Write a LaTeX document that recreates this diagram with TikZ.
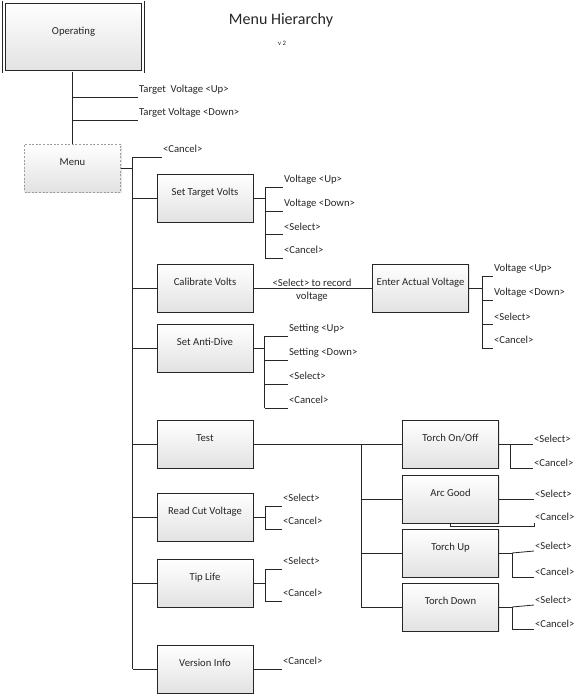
\documentclass[tikz,border=0pt]{standalone}
\usepackage{fontspec}
\setmainfont{Carlito}
\usepackage{tikz}
\usetikzlibrary{shadows}
\definecolor{ink}{HTML}{262626}
\definecolor{boxgray}{HTML}{E2E2E2}
\definecolor{dashgray}{HTML}{9C9C9C}
\tikzset{
  menu diagram/.style={
    x=0.75pt,
    y=-0.75pt,
    font=\fontsize{8}{9.6}\selectfont,
    color=ink
  },
  menubox/.style={
    draw=ink,
    line width=0.6pt,
    top color=white,
    bottom color=boxgray,
    minimum width=72pt,
    minimum height=36pt,
    inner sep=0pt,
    text height=6pt,
    text depth=10.4pt,
    drop shadow={shadow xshift=1pt, shadow yshift=-1pt, opacity=0.2}
  },
  rootbox/.style={
    menubox,
    double=white,
    double distance=1.4pt,
    minimum width=104pt,
    minimum height=52pt
  },
  hubbox/.style={
    menubox,
    draw=dashgray,
    dash pattern=on 1.5pt off 1.2pt
  },
  leaf/.style={
    anchor=south west,
    inner xsep=0.6pt,
    inner ysep=0pt,
    text depth=3pt
  },
  tleaf/.style={
    leaf,
    text depth=1pt
  },
  wire/.style={
    draw=ink,
    line width=0.6pt
  }
}

\begin{document}
\begin{tikzpicture}[menu diagram]
\useasboundingbox (0,0) rectangle (577,696);

% title
\node[font=\fontsize{12}{14}\selectfont] (title) at (281,20) {Menu Hierarchy};
\node[font=\fontsize{5}{6}\selectfont] (version) at (282,43) {v 2};

% top level
\node[rootbox] (operating) at (73.5,37) {Operating};
\node[hubbox] (menu) at (72.5,168) {Menu};
\node[leaf] (tvup) at (138,97) {Target\ \ Voltage <Up>};
\node[leaf] (tvdown) at (138,120) {Target Voltage <Down>};
\draw[wire] (menu.north |- operating.south) -- (menu.north);
\draw[wire] (menu.north |- tvup.south west) -- (tvup.south west);
\draw[wire] (menu.north |- tvdown.south west) -- (tvdown.south west);

% menu entries
\coordinate (trunk) at (132.5,157);
\node[leaf] (mcancel) at (162,157) {<Cancel>};
\node[menubox] (settarget) at (205,198) {Set Target Volts};
\node[menubox] (calibrate) at (205,288) {Calibrate Volts};
\node[menubox] (antidive) at (205,348) {Set Anti-Dive};
\node[menubox] (test) at (205,444) {Test};
\node[menubox] (readcut) at (205,517) {Read Cut Voltage};
\node[menubox] (tiplife) at (205,583) {Tip Life};
\node[menubox] (versioninfo) at (205,669) {Version Info};
\draw[wire] (menu.east) -- (menu.east -| trunk);
\draw[wire] (trunk) -- (trunk |- versioninfo);
\draw[wire] (trunk) -- (mcancel.south west);
\draw[wire] (trunk |- settarget) -- (settarget.west);
\draw[wire] (trunk |- calibrate) -- (calibrate.west);
\draw[wire] (trunk |- antidive) -- (antidive.west);
\draw[wire] (trunk |- test) -- (test.west);
\draw[wire] (trunk |- readcut) -- (readcut.west);
\draw[wire] (trunk |- tiplife) -- (tiplife.west);
\draw[wire] (trunk |- versioninfo) -- (versioninfo.west);

% set target volts
\coordinate (stvbus) at (265,187);
\node[leaf] (stvup) at (283,187) {Voltage <Up>};
\node[leaf] (stvdown) at (283,211) {Voltage <Down>};
\node[leaf] (stvsel) at (283,234.5) {<Select>};
\node[leaf] (stvcan) at (283,258) {<Cancel>};
\draw[wire] (settarget.east) -- (settarget.east -| stvbus);
\draw[wire] (stvbus) -- (stvbus |- stvcan.south west);
\draw[wire] (stvbus) -- (stvup.south west);
\draw[wire] (stvbus |- stvdown.south west) -- (stvdown.south west);
\draw[wire] (stvbus |- stvsel.south west) -- (stvsel.south west);
\draw[wire] (stvbus |- stvcan.south west) -- (stvcan.south west);

% calibrate volts
\node[menubox] (enteractual) at (420.5,288) {Enter Actual Voltage};
\draw[wire] (calibrate) -- (enteractual);
\node[align=center] (recordlbl) at (312,290.5) {<Select> to record\\voltage};
\coordinate (eavbus) at (482,276);
\node[leaf] (eavup) at (493,276) {Voltage <Up>};
\node[leaf] (eavdown) at (493,300) {Voltage <Down>};
\node[leaf] (eavsel) at (493,324.5) {<Select>};
\node[leaf] (eavcan) at (493,348) {<Cancel>};
\draw[wire] (enteractual.east) -- (enteractual.east -| eavbus);
\draw[wire] (eavbus) -- (eavbus |- eavcan.south west);
\draw[wire] (eavbus) -- (eavup.south west);
\draw[wire] (eavbus |- eavdown.south west) -- (eavdown.south west);
\draw[wire] (eavbus |- eavsel.south west) -- (eavsel.south west);
\draw[wire] (eavbus |- eavcan.south west) -- (eavcan.south west);

% set anti-dive
\coordinate (sadbus) at (264.5,336);
\node[leaf] (sadup) at (288,336) {Setting <Up>};
\node[leaf] (saddown) at (288,360) {Setting <Down>};
\node[leaf] (sadsel) at (288,384) {<Select>};
\node[leaf] (sadcan) at (288,408) {<Cancel>};
\draw[wire] (antidive.east) -- (antidive.east -| sadbus);
\draw[wire] (sadbus) -- (sadbus |- sadcan.south west);
\draw[wire] (sadbus) -- (sadup.south west);
\draw[wire] (sadbus |- saddown.south west) -- (saddown.south west);
\draw[wire] (sadbus |- sadsel.south west) -- (sadsel.south west);
\draw[wire] (sadbus |- sadcan.south west) -- (sadcan.south west);

% test
\coordinate (testbus) at (361,444);
\node[menubox] (torchonoff) at (450.5,444) {Torch On/Off};
\node[menubox] (arcgood) at (450.5,499) {Arc Good};
\node[menubox] (torchup) at (450.5,553) {Torch Up};
\node[menubox] (torchdown) at (450.5,607) {Torch Down};
\draw[wire] (test) -- (torchonoff);
\draw[wire] (testbus) -- (testbus |- torchdown);
\draw[wire] (testbus |- arcgood) -- (arcgood.west);
\draw[wire] (testbus |- torchup) -- (torchup.west);
\draw[wire] (testbus |- torchdown) -- (torchdown.west);

% torch on/off
\coordinate (tobus) at (510,444);
\node[tleaf] (tosel) at (533,444) {<Select>};
\node[tleaf] (tocan) at (533,468) {<Cancel>};
\draw[wire] (torchonoff.east) -- (tosel.south west);
\draw[wire] (tobus) -- (tobus |- tocan.south west) -- (tocan.south west);

% arc good
\node[tleaf] (agsel) at (534,499) {<Select>};
\node[tleaf] (agcan) at (534,522.5) {<Cancel>};
\draw[wire] (arcgood.east) -- (agsel.south west);
\draw[wire] (arcgood.south) -- ++(0,3) -| (agcan.south west);

% torch up
\coordinate (tubus) at (512,553);
\node[tleaf] (tusel) at (534,551) {<Select>};
\node[tleaf] (tucan) at (534,577) {<Cancel>};
\draw[wire] (torchup.east) -- (tubus) -- (tubus |- tucan.south west) -- (tucan.south west);
\draw[wire] (tubus) -- (tusel.south west);

% torch down
\coordinate (tdbus) at (512,607);
\node[tleaf] (tdsel) at (534,605) {<Select>};
\node[tleaf] (tdcan) at (534,629) {<Cancel>};
\draw[wire] (torchdown.east) -- (tdbus) -- (tdbus |- tdcan.south west) -- (tdcan.south west);
\draw[wire] (tdbus) -- (tdsel.south west);

% read cut voltage
\coordinate (rcbus) at (265,506);
\node[leaf] (rcsel) at (282,506) {<Select>};
\node[leaf] (rccan) at (282,529) {<Cancel>};
\draw[wire] (readcut.east) -- (readcut.east -| rcbus);
\draw[wire] (rcbus) -- (rcsel.south west);
\draw[wire] (rcbus) -- (rcbus |- rccan.south west) -- (rccan.south west);

% tip life
\coordinate (tlbus) at (265,569);
\node[leaf] (tlsel) at (282,569) {<Select>};
\node[leaf] (tlcan) at (282,601) {<Cancel>};
\draw[wire] (tiplife.east) -- (tiplife.east -| tlbus);
\draw[wire] (tlbus) -- (tlsel.south west);
\draw[wire] (tlbus) -- (tlbus |- tlcan.south west) -- (tlcan.south west);

% version info
\node[leaf] (vicancel) at (282,669) {<Cancel>};
\draw[wire] (versioninfo.east) -- (vicancel.south west);
\end{tikzpicture}
\end{document}
